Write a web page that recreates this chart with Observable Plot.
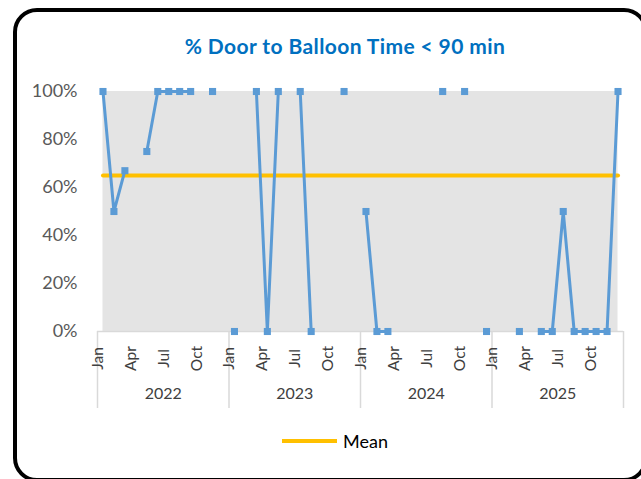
<!DOCTYPE html>
<html>
<head>
<meta charset="utf-8">
<script src="https://cdn.jsdelivr.net/npm/d3@7"></script>
<script src="https://cdn.jsdelivr.net/npm/@observablehq/plot@0.6"></script>
<style>
  html, body { margin: 0; padding: 0; background: #fff; overflow: hidden; }
  #wrap { position: relative; width: 641px; height: 479px; overflow: hidden; font-family: Lato, "Open Sans", sans-serif; }
  #frame { position: absolute; left: 13px; top: 8px; width: 627px; height: 466px; border: 4.5px solid #000; border-radius: 24px; }
  #title { position: absolute; left: 0; width: 690px; top: 33px; text-align: center; color: #0070C0; font-weight: bold; font-size: 21px; letter-spacing: 0.4px; }
  #chart { position: absolute; left: 0; top: 70px; }
  #legend { position: absolute; left: 282px; top: 430px; display: flex; align-items: center; font-size: 18px; color: #000; }
  #legend .sw { width: 55px; height: 4px; background: #FFC000; margin-right: 6px; }
</style>
</head>
<body>
<div id="wrap">
  <div id="frame"></div>
  <div id="title">% Door to Balloon Time &lt; 90 min</div>
  <div id="chart"></div>
  <div id="legend"><span class="sw"></span><span>Mean</span></div>
</div>
<script>
// ---- data ----
const years = [2022, 2023, 2024, 2025];
const monthNames = ["Jan","Feb","Mar","Apr","May","Jun","Jul","Aug","Sep","Oct","Nov","Dec"];
const tickMonths = ["Jan","Apr","Jul","Oct"];
const values2022 = [1, 0.5, 0.67, null, 0.75, 1, 1, 1, 1, null, 1, null];
const values2023 = [0, null, 1, 0, 1, null, 1, 0, null, null, 1, null];
const values2024 = [0.5, 0, 0, null, null, null, null, 1, null, 1, null, 0];
const values2025 = [null, null, 0, null, 0, 0, 0.5, 0, 0, 0, 0, 1];
const meanValue = 0.65;
const yTicks = [0, 0.2, 0.4, 0.6, 0.8, 1];

const allValues = [values2022, values2023, values2024, values2025];
const rows = [];
years.forEach((yr, yi) => {
  monthNames.forEach((m, mi) => {
    const v = allValues[yi][mi];
    rows.push({i: yi * 12 + mi, year: yr, month: m, v: v == null ? NaN : v});
  });
});
const yearBounds = years.map((y, i) => i * 12 - 0.5).concat([years.length * 12 - 0.5]);
const yearRows = years.map((y, i) => ({x: i * 12 + 5.5, label: String(y)}));

const chart = Plot.plot({
  width: 641,
  height: 350,
  marginLeft: 97,
  marginRight: 18,
  marginTop: 21,
  marginBottom: 89,
  style: {fontFamily: "Lato, 'Open Sans', sans-serif", background: "transparent", color: "#595959"},
  x: {domain: [-0.5, rows.length - 0.5], axis: null},
  y: {domain: [0, 1], axis: null},
  marks: [
    Plot.areaY(rows, {x: "i", y: () => 1, fill: "#e4e4e4"}),
    Plot.ruleY([0], {stroke: "#d9d9d9", strokeWidth: 1.5}),
    Plot.ruleX(yearBounds, {stroke: "#d9d9d9", strokeWidth: 1.5, insetTop: 240, insetBottom: -77}),
    Plot.axisY({ticks: yTicks, tickFormat: d3.format(".0%"), tickSize: 0, tickPadding: 20, fontSize: 18, fill: "#595959", label: null}),
    Plot.lineY(rows, {x: "i", y: () => meanValue, stroke: "#FFC000", strokeWidth: 4}),
    Plot.line(rows, {x: "i", y: "v", stroke: "#5B9BD5", strokeWidth: 3}),
    Plot.dot(rows.filter(d => !isNaN(d.v)), {x: "i", y: "v", symbol: "square", r: 4, fill: "#5B9BD5", stroke: null}),
    Plot.text(rows.filter(d => tickMonths.includes(d.month)), {x: "i", text: "month", frameAnchor: "bottom", dy: 27, rotate: -90, fontSize: 15.5, fill: "#404040"}),
    Plot.text(yearRows, {x: "x", text: "label", frameAnchor: "bottom", dy: 67, fontSize: 16, fill: "#404040"})
  ]
});
document.getElementById("chart").appendChild(chart);
</script>
</body>
</html>
